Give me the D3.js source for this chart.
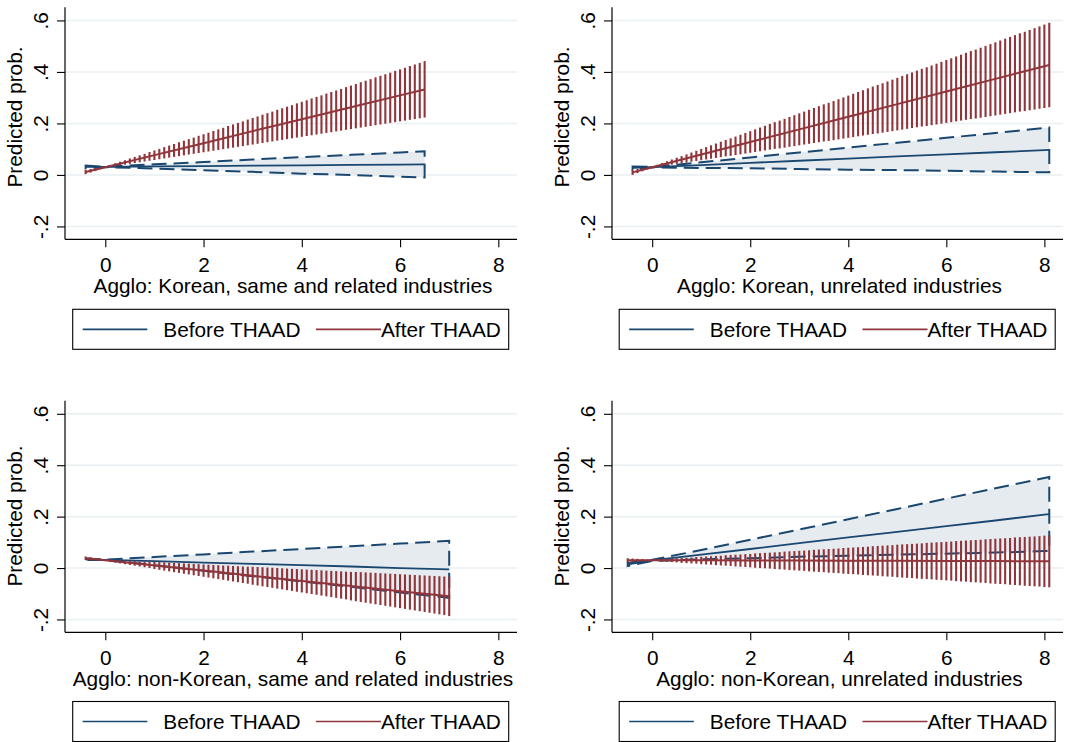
<!DOCTYPE html>
<html lang="en">
  <head>
    <title>Predicted prob. before / after THAAD</title>
    <script src="https://d3js.org/d3.v7.min.js" charset="utf-8"></script>
    <style type="text/css">
      body {
        margin: 0;
        background: white;
        font-family: "Liberation Sans", Arial, Helvetica, sans-serif;
      }
      svg text {
        fill: #000;
      }
    </style>
  </head>
  <body>
    <script>
      // ---- data ----
      var xTitles = [
        "Agglo: Korean, same and related industries",
        "Agglo: Korean, unrelated industries",
        "Agglo: non-Korean, same and related industries",
        "Agglo: non-Korean, unrelated industries"
      ];
      var legendLabels = ["Before THAAD", "After THAAD"];
      var yTicks = [-0.2, 0, 0.2, 0.4, 0.6];
      var yTickLabels = ["-.2", "0", ".2", ".4", ".6"];
      var xTicks = [0, 2, 4, 6, 8];
      var yTitle = "Predicted prob.";

      // panel 1 : Korean, same and related
      var spikeX1 = [-0.4,-0.3,-0.2,-0.1,
        0,0.1,0.2,0.3,0.4,0.5,0.6,0.7,0.8,0.9,
        1,1.1,1.2,1.3,1.4,1.5,1.6,1.7,1.8,1.9,
        2,2.1,2.2,2.3,2.4,2.5,2.6,2.7,2.8,2.9,
        3,3.1,3.2,3.3,3.4,3.5,3.6,3.7,3.8,3.9,
        4,4.1,4.2,4.3,4.4,4.5,4.6,4.7,4.8,4.9,
        5,5.1,5.2,5.3,5.4,5.5,5.6,5.7,5.8,5.9,
        6,6.1,6.2,6.3,6.4,6.5];
      var redHi1 = [0.020,0.023,0.026,0.029,
        0.032,0.038,0.045,0.051,0.057,0.064,0.070,0.076,0.082,0.089,
        0.095,0.101,0.108,0.114,0.120,0.127,0.133,0.139,0.145,0.152,
        0.158,0.164,0.171,0.177,0.183,0.190,0.196,0.202,0.208,0.215,
        0.221,0.227,0.234,0.240,0.246,0.253,0.259,0.265,0.271,0.278,
        0.284,0.290,0.297,0.303,0.309,0.316,0.322,0.328,0.334,0.341,
        0.347,0.353,0.360,0.366,0.372,0.379,0.385,0.391,0.397,0.404,
        0.410,0.416,0.423,0.429,0.435,0.442];
      var redLo1 = [0.003,0.009,0.015,0.022,
        0.028,0.031,0.034,0.037,0.040,0.043,0.046,0.049,0.052,0.055,
        0.058,0.061,0.064,0.067,0.070,0.073,0.076,0.079,0.082,0.085,
        0.088,0.091,0.094,0.097,0.100,0.103,0.106,0.109,0.112,0.115,
        0.118,0.121,0.124,0.127,0.130,0.133,0.136,0.139,0.142,0.145,
        0.148,0.151,0.154,0.157,0.160,0.163,0.166,0.169,0.172,0.175,
        0.178,0.181,0.184,0.187,0.190,0.193,0.196,0.199,0.202,0.205,
        0.208,0.211,0.214,0.217,0.220,0.223];
      var lineX1 = [-0.4,0,1,2,3,4,5,6,6.5];
      var redEst1 = [0.011,0.030,0.077,0.123,0.170,0.216,0.263,0.309,0.332];
      var blueEst1 = [0.031,0.031,0.033,0.034,0.036,0.037,0.039,0.040,0.041];
      var blueHi1 = [0.036,0.032,0.041,0.050,0.060,0.069,0.078,0.087,0.092];
      var blueLo1 = [0.026,0.030,0.025,0.018,0.012,0.005,0.000,-0.007,-0.010];

      // panel 2 : Korean, unrelated
      var spikeX2 = [-0.4,-0.3,-0.2,-0.1,
        0,0.1,0.2,0.3,0.4,0.5,0.6,0.7,0.8,0.9,
        1,1.1,1.2,1.3,1.4,1.5,1.6,1.7,1.8,1.9,
        2,2.1,2.2,2.3,2.4,2.5,2.6,2.7,2.8,2.9,
        3,3.1,3.2,3.3,3.4,3.5,3.6,3.7,3.8,3.9,
        4,4.1,4.2,4.3,4.4,4.5,4.6,4.7,4.8,4.9,
        5,5.1,5.2,5.3,5.4,5.5,5.6,5.7,5.8,5.9,
        6,6.1,6.2,6.3,6.4,6.5,6.6,6.7,6.8,6.9,
        7,7.1,7.2,7.3,7.4,7.5,7.6,7.7,7.8,7.9,
        8,8.1];
      var redHi2 = [0.020,0.023,0.026,0.029,
        0.032,0.039,0.046,0.053,0.060,0.067,0.073,0.080,0.087,0.094,
        0.101,0.108,0.115,0.122,0.129,0.136,0.142,0.149,0.156,0.163,
        0.170,0.177,0.184,0.191,0.198,0.205,0.211,0.218,0.225,0.232,
        0.239,0.246,0.253,0.260,0.267,0.274,0.280,0.287,0.294,0.301,
        0.308,0.315,0.322,0.329,0.336,0.343,0.349,0.356,0.363,0.370,
        0.377,0.384,0.391,0.398,0.405,0.412,0.418,0.425,0.432,0.439,
        0.446,0.453,0.460,0.467,0.474,0.481,0.487,0.494,0.501,0.508,
        0.515,0.522,0.529,0.536,0.543,0.550,0.556,0.563,0.570,0.577,
        0.584,0.591];
      var redLo2 = [0.000,0.007,0.014,0.021,
        0.028,0.031,0.034,0.037,0.040,0.043,0.045,0.048,0.051,0.054,
        0.057,0.060,0.063,0.066,0.069,0.072,0.074,0.077,0.080,0.083,
        0.086,0.089,0.092,0.095,0.098,0.101,0.103,0.106,0.109,0.112,
        0.115,0.118,0.121,0.124,0.127,0.130,0.132,0.135,0.138,0.141,
        0.144,0.147,0.150,0.153,0.156,0.159,0.161,0.164,0.167,0.170,
        0.173,0.176,0.179,0.182,0.185,0.188,0.190,0.193,0.196,0.199,
        0.202,0.205,0.208,0.211,0.214,0.217,0.219,0.222,0.225,0.228,
        0.231,0.234,0.237,0.240,0.243,0.246,0.248,0.251,0.254,0.257,
        0.260,0.263];
      var lineX2 = [-0.4,0,1,2,3,4,5,6,7,8,8.1];
      var redEst2 = [0.010,0.030,0.079,0.128,0.177,0.226,0.275,0.324,0.373,0.422,0.427];
      var blueEst2 = [0.027,0.030,0.038,0.047,0.055,0.063,0.072,0.080,0.088,0.096,0.097];
      var blueHi2 = [0.033,0.031,0.049,0.068,0.087,0.106,0.125,0.144,0.163,0.182,0.184];
      var blueLo2 = [0.021,0.029,0.027,0.026,0.023,0.020,0.019,0.016,0.013,0.010,0.010];

      // panel 3 : non-Korean, same and related
      var spikeX3 = [-0.4,-0.3,-0.2,-0.1,
        0,0.1,0.2,0.3,0.4,0.5,0.6,0.7,0.8,0.9,
        1,1.1,1.2,1.3,1.4,1.5,1.6,1.7,1.8,1.9,
        2,2.1,2.2,2.3,2.4,2.5,2.6,2.7,2.8,2.9,
        3,3.1,3.2,3.3,3.4,3.5,3.6,3.7,3.8,3.9,
        4,4.1,4.2,4.3,4.4,4.5,4.6,4.7,4.8,4.9,
        5,5.1,5.2,5.3,5.4,5.5,5.6,5.7,5.8,5.9,
        6,6.1,6.2,6.3,6.4,6.5,6.6,6.7,6.8,6.9,
        7];
      var redHi3 = [0.045,0.042,0.039,0.036,
        0.033,0.032,0.031,0.030,0.029,0.028,0.027,0.026,0.025,0.024,
        0.024,0.023,0.022,0.021,0.020,0.019,0.018,0.017,0.016,0.015,
        0.014,0.013,0.012,0.011,0.010,0.009,0.008,0.007,0.006,0.005,
        0.005,0.004,0.003,0.002,0.001,0.000,-0.001,-0.002,-0.003,-0.004,
        -0.005,-0.006,-0.007,-0.008,-0.009,-0.010,-0.011,-0.012,-0.013,-0.014,
        -0.015,-0.015,-0.016,-0.017,-0.018,-0.019,-0.020,-0.021,-0.022,-0.023,
        -0.024,-0.025,-0.026,-0.027,-0.028,-0.029,-0.030,-0.031,-0.032,-0.033,
        -0.034];
      var redLo3 = [0.031,0.030,0.029,0.028,
        0.027,0.024,0.021,0.018,0.015,0.012,0.009,0.006,0.003,0.000,
        -0.004,-0.007,-0.010,-0.013,-0.016,-0.019,-0.022,-0.025,-0.028,-0.031,
        -0.034,-0.037,-0.040,-0.043,-0.046,-0.049,-0.052,-0.055,-0.058,-0.061,
        -0.065,-0.068,-0.071,-0.074,-0.077,-0.080,-0.083,-0.086,-0.089,-0.092,
        -0.095,-0.098,-0.101,-0.104,-0.107,-0.110,-0.113,-0.116,-0.119,-0.122,
        -0.126,-0.129,-0.132,-0.135,-0.138,-0.141,-0.144,-0.147,-0.150,-0.153,
        -0.156,-0.159,-0.162,-0.165,-0.168,-0.171,-0.174,-0.177,-0.180,-0.183,
        -0.187];
      var lineX3 = [-0.4,0,1,2,3,4,5,6,7];
      var redEst3 = [0.038,0.030,0.010,-0.010,-0.030,-0.050,-0.070,-0.090,-0.110];
      var blueEst3 = [0.034,0.032,0.027,0.021,0.016,0.011,0.006,0.000,-0.005];
      var blueHi3 = [0.037,0.033,0.043,0.053,0.064,0.074,0.085,0.095,0.106];
      var blueLo3 = [0.031,0.031,0.011,-0.011,-0.032,-0.052,-0.073,-0.095,-0.116];

      // panel 4 : non-Korean, unrelated
      var spikeX4 = [-0.5,-0.4,-0.3,-0.2,-0.1,
        0,0.1,0.2,0.3,0.4,0.5,0.6,0.7,0.8,0.9,
        1,1.1,1.2,1.3,1.4,1.5,1.6,1.7,1.8,1.9,
        2,2.1,2.2,2.3,2.4,2.5,2.6,2.7,2.8,2.9,
        3,3.1,3.2,3.3,3.4,3.5,3.6,3.7,3.8,3.9,
        4,4.1,4.2,4.3,4.4,4.5,4.6,4.7,4.8,4.9,
        5,5.1,5.2,5.3,5.4,5.5,5.6,5.7,5.8,5.9,
        6,6.1,6.2,6.3,6.4,6.5,6.6,6.7,6.8,6.9,
        7,7.1,7.2,7.3,7.4,7.5,7.6,7.7,7.8,7.9,
        8,8.1];
      var redHi4 = [0.038,0.037,0.036,0.035,0.033,
        0.032,0.033,0.034,0.036,0.037,0.038,0.039,0.040,0.041,0.043,
        0.044,0.045,0.046,0.047,0.048,0.050,0.051,0.052,0.053,0.054,
        0.055,0.057,0.058,0.059,0.060,0.061,0.062,0.064,0.065,0.066,
        0.067,0.068,0.069,0.071,0.072,0.073,0.074,0.075,0.076,0.078,
        0.079,0.080,0.081,0.082,0.083,0.085,0.086,0.087,0.088,0.089,
        0.091,0.092,0.093,0.094,0.095,0.096,0.098,0.099,0.100,0.101,
        0.102,0.103,0.105,0.106,0.107,0.108,0.109,0.110,0.112,0.113,
        0.114,0.115,0.116,0.117,0.119,0.120,0.121,0.122,0.123,0.124,
        0.126,0.127];
      var redLo4 = [0.022,0.023,0.025,0.026,0.027,
        0.028,0.027,0.025,0.024,0.023,0.022,0.020,0.019,0.018,0.017,
        0.015,0.014,0.013,0.011,0.010,0.009,0.008,0.006,0.005,0.004,
        0.003,0.001,0.000,-0.001,-0.002,-0.004,-0.005,-0.006,-0.008,-0.009,
        -0.010,-0.011,-0.013,-0.014,-0.015,-0.016,-0.018,-0.019,-0.020,-0.022,
        -0.023,-0.024,-0.025,-0.027,-0.028,-0.029,-0.030,-0.032,-0.033,-0.034,
        -0.036,-0.037,-0.038,-0.039,-0.041,-0.042,-0.043,-0.044,-0.046,-0.047,
        -0.048,-0.049,-0.051,-0.052,-0.053,-0.055,-0.056,-0.057,-0.058,-0.060,
        -0.061,-0.062,-0.063,-0.065,-0.066,-0.067,-0.069,-0.070,-0.071,-0.072,
        -0.074,-0.075];
      var lineX4 = [-0.5,0,1,2,3,4,5,6,7,8,8.1];
      var redEst4 = [0.030,0.030,0.030,0.029,0.029,0.028,0.028,0.027,0.027,0.026,0.026];
      var blueEst4 = [0.014,0.030,0.052,0.074,0.097,0.119,0.141,0.163,0.185,0.208,0.210];
      var blueHi4 = [0.020,0.032,0.070,0.110,0.150,0.190,0.230,0.270,0.310,0.350,0.354];
      var blueLo4 = [0.008,0.028,0.034,0.038,0.044,0.048,0.052,0.056,0.060,0.066,0.066];

      // ---- look ----
      var width = 1066;
      var height = 742;
      var navy = "#1a476f";
      var maroon = "#90353b";
      var ciFill = "#e6ebf0";
      var gridColor = "#e8eff2";
      var fontSize = 20.8;

      var panels = [
        { sx: spikeX1, hi: redHi1, lo: redLo1, lx: lineX1, re: redEst1, be: blueEst1, bh: blueHi1, bl: blueLo1,
          title: xTitles[0], left: 65, right: 517, top: 7.3, bottom: 239.3, yTitleMid: 117, legTop: 309.3, legLeft: 72.7 },
        { sx: spikeX2, hi: redHi2, lo: redLo2, lx: lineX2, re: redEst2, be: blueEst2, bh: blueHi2, bl: blueLo2,
          title: xTitles[1], left: 612, right: 1063, top: 7.3, bottom: 239.3, yTitleMid: 117, legTop: 309.3, legLeft: 619.2 },
        { sx: spikeX3, hi: redHi3, lo: redLo3, lx: lineX3, re: redEst3, be: blueEst3, bh: blueHi3, bl: blueLo3,
          title: xTitles[2], left: 65, right: 517, top: 400.7, bottom: 632.3, yTitleMid: 516, legTop: 701.5, legLeft: 72.7 },
        { sx: spikeX4, hi: redHi4, lo: redLo4, lx: lineX4, re: redEst4, be: blueEst4, bh: blueHi4, bl: blueLo4,
          title: xTitles[3], left: 612, right: 1063, top: 400.7, bottom: 632.3, yTitleMid: 516, legTop: 701.5, legLeft: 619.2 }
      ];

      var svg = d3.select("body")
        .append("svg")
        .attr("width", width)
        .attr("height", height)
        .style("display", "block")
        .style("font-family", '"Liberation Sans", Arial, Helvetica, sans-serif');

      svg.append("rect").attr("width", width).attr("height", height).attr("fill", "white");

      panels.forEach(function(p) {
        var x = d3.scaleLinear().domain([-0.82, 8.38]).range([p.left, p.right]);
        var y = d3.scaleLinear().domain([-0.25, 0.651]).range([p.bottom, p.top]);
        var g = svg.append("g");

        // gridlines
        g.selectAll(".grid")
          .data(yTicks)
          .enter()
          .append("line")
          .attr("x1", p.left).attr("x2", p.right)
          .attr("y1", function(d) { return y(d); })
          .attr("y2", function(d) { return y(d); })
          .attr("stroke", gridColor)
          .attr("stroke-width", 1.5);

        // blue CI area + dashed outline
        var idx = d3.range(p.lx.length);
        var area = d3.area()
          .x(function(i) { return x(p.lx[i]); })
          .y0(function(i) { return y(p.bl[i]); })
          .y1(function(i) { return y(p.bh[i]); });
        g.append("path").attr("d", area(idx)).attr("fill", ciFill);

        var ring = idx.map(function(i) { return [x(p.lx[i]), y(p.bh[i])]; })
          .concat(idx.slice().reverse().map(function(i) { return [x(p.lx[i]), y(p.bl[i])]; }));
        g.append("path")
          .attr("d", d3.line()(ring) + "Z")
          .attr("fill", "none")
          .attr("stroke", navy)
          .attr("stroke-width", 2)
          .attr("stroke-dasharray", "15,7");

        // blue estimate
        g.append("path")
          .attr("d", d3.line()
            .x(function(i) { return x(p.lx[i]); })
            .y(function(i) { return y(p.be[i]); })(idx))
          .attr("fill", "none")
          .attr("stroke", navy)
          .attr("stroke-width", 1.8);

        // red spikes
        g.selectAll(".spike")
          .data(d3.range(p.sx.length))
          .enter()
          .append("line")
          .attr("x1", function(i) { return x(p.sx[i]); })
          .attr("x2", function(i) { return x(p.sx[i]); })
          .attr("y1", function(i) { return y(p.lo[i]); })
          .attr("y2", function(i) { return y(p.hi[i]); })
          .attr("stroke", maroon)
          .attr("stroke-width", 2.1);

        // red estimate
        g.append("path")
          .attr("d", d3.line()
            .x(function(i) { return x(p.lx[i]); })
            .y(function(i) { return y(p.re[i]); })(idx))
          .attr("fill", "none")
          .attr("stroke", maroon)
          .attr("stroke-width", 2);

        // y axis
        var yAxis = g.append("g")
          .attr("transform", "translate(" + p.left + ",0)")
          .call(d3.axisLeft(y).tickValues(yTicks).tickSize(8).tickSizeOuter(0)
            .tickFormat(function(d, i) { return yTickLabels[i]; }));
        yAxis.select(".domain").attr("stroke", "#000").attr("stroke-width", 1.2)
          .attr("d", "M0," + p.bottom + "V" + p.top);
        yAxis.selectAll(".tick line").attr("stroke", "#000").attr("stroke-width", 1.1);
        yAxis.selectAll(".tick text")
          .attr("transform", "rotate(-90)")
          .attr("x", 0).attr("y", -17).attr("dy", 0)
          .attr("text-anchor", "middle")
          .style("font-size", fontSize + "px")
          .style("font-family", '"Liberation Sans", Arial, sans-serif')
          .attr("fill", "#000");

        // x axis
        var xAxis = g.append("g")
          .attr("transform", "translate(0," + p.bottom + ")")
          .call(d3.axisBottom(x).tickValues(xTicks).tickSize(8).tickSizeOuter(0)
            .tickFormat(d3.format("d")));
        xAxis.select(".domain").attr("stroke", "#000").attr("stroke-width", 1.2)
          .attr("d", "M" + p.left + ",0H" + p.right);
        xAxis.selectAll(".tick line").attr("stroke", "#000").attr("stroke-width", 1.1);
        xAxis.selectAll(".tick text")
          .attr("y", 32.6).attr("dy", 0)
          .style("font-size", fontSize + "px")
          .style("font-family", '"Liberation Sans", Arial, sans-serif')
          .attr("fill", "#000");

        // titles
        g.append("text")
          .attr("transform", "translate(" + (p.left - 43) + "," + p.yTitleMid + ") rotate(-90)")
          .attr("text-anchor", "middle")
          .style("font-size", fontSize + "px")
          .text(yTitle);
        g.append("text")
          .attr("x", (p.left + p.right) / 2 + 2)
          .attr("y", p.bottom + 53.4)
          .attr("text-anchor", "middle")
          .style("font-size", fontSize + "px")
          .text(p.title);

        // legend
        var leg = g.append("g").attr("transform", "translate(" + p.legLeft + "," + p.legTop + ")");
        leg.append("rect")
          .attr("width", 436).attr("height", 40)
          .attr("fill", "white").attr("stroke", "#000").attr("stroke-width", 1.1);
        var legColors = [navy, maroon];
        var legLine = [[10, 74.6], [243.3, 308.3]];
        var legText = [90.6, 308.3];
        legendLabels.forEach(function(lab, i) {
          leg.append("line")
            .attr("x1", legLine[i][0]).attr("x2", legLine[i][1])
            .attr("y1", 20).attr("y2", 20)
            .attr("stroke", legColors[i]).attr("stroke-width", 1.7);
          leg.append("text")
            .attr("x", legText[i]).attr("y", 27.4)
            .style("font-size", fontSize + "px")
            .text(lab);
        });
      });
    </script>
  </body>
</html>
